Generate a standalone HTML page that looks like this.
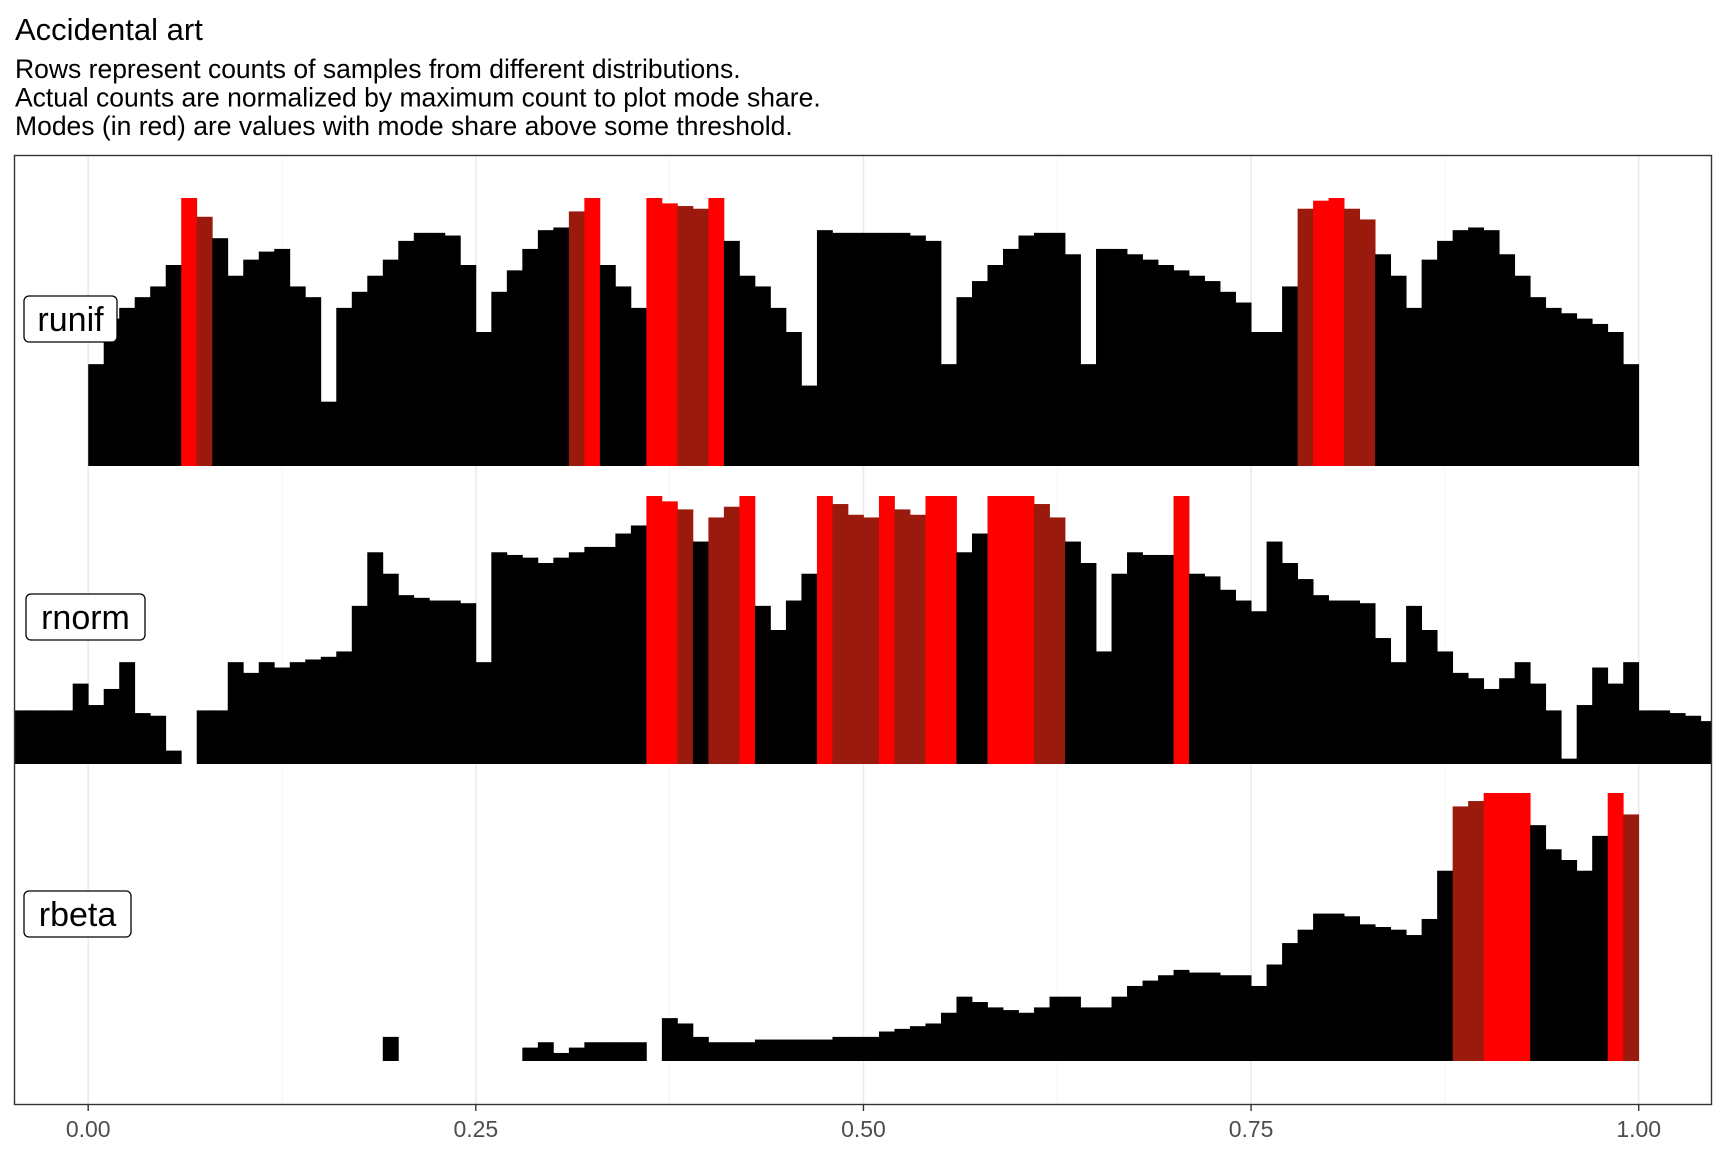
<!DOCTYPE html>
<html><head><meta charset="utf-8"><style>
html,body{margin:0;padding:0;background:#fff}
svg{display:block;font-family:"Liberation Sans",sans-serif}
</style></head><body>
<svg id="chart" width="1728" height="1152" viewBox="0 0 1728 1152" xmlns="http://www.w3.org/2000/svg">
<text x="15" y="40" font-size="31" fill="#000">Accidental art</text>
<text x="15" y="78" font-size="26.5" fill="#000">Rows represent counts of samples from different distributions.</text>
<text x="15" y="106.5" font-size="26.5" fill="#000">Actual counts are normalized by maximum count to plot mode share.</text>
<text x="15" y="135" font-size="26.5" fill="#000">Modes (in red) are values with mode share above some threshold.</text>
<g id="grid"></g>
<g id="bars"></g>
<g id="labels"></g>
<rect x="14.5" y="155.5" width="1697" height="949" fill="none" stroke="#333" stroke-width="1.4"/>
<g id="axis"></g>
</svg>
<script>
const rows = ["runif","rnorm","rbeta"];
const startRunif = 0.00;
const runifVals = [.38,.55,.59,.63,.67,.75,1.0,.93,.85,.71,.77,.8,.81,.67,.63,.24,.59,.65,.71,.77,.84,.87,.87,.86,.75,.5,.65,.73,.81,.88,.89,.95,1.0,.75,.67,.59,1.0,.98,.97,.96,1.0,.84,.71,.67,.59,.5,.3,.88,.87,.87,.87,.87,.87,.86,.84,.38,.63,.69,.75,.81,.86,.87,.87,.79,.38,.81,.81,.79,.77,.75,.73,.71,.69,.65,.61,.5,.5,.67,.96,.99,1.0,.96,.92,.79,.71,.59,.77,.84,.88,.89,.88,.79,.71,.63,.59,.57,.55,.53,.5,.38];
const startRnorm = -0.05;
const rnormVals = [.2,.2,.2,.2,.3,.22,.28,.38,.19,.18,.05,0,.2,.2,.38,.34,.38,.36,.38,.39,.4,.42,.59,.79,.71,.63,.62,.61,.61,.6,.38,.79,.78,.77,.75,.77,.79,.81,.81,.86,.89,1.0,.98,.95,.83,.92,.96,1.0,.59,.5,.61,.71,1.0,.97,.93,.92,1.0,.95,.93,1.0,1.0,.79,.86,1.0,1.0,1.0,.97,.92,.83,.75,.42,.71,.79,.78,.78,1.0,.71,.7,.65,.61,.57,.83,.75,.69,.63,.61,.61,.6,.47,.38,.59,.5,.42,.34,.32,.28,.32,.38,.3,.2,.02,.22,.36,.3,.38,.2,.2,.19,.18,.16];
const startRbeta = 0.19;
const rbetaVals = [.09,0,0,0,0,0,0,0,0,.05,.07,.03,.05,.07,.07,.07,.07,0,.16,.14,.09,.07,.07,.07,.08,.08,.08,.08,.08,.09,.09,.09,.11,.12,.13,.14,.18,.24,.22,.2,.19,.18,.2,.24,.24,.2,.2,.24,.28,.3,.32,.34,.33,.33,.32,.32,.28,.36,.44,.49,.55,.55,.54,.51,.5,.49,.47,.53,.71,.95,.97,1.0,1.0,1.0,.88,.79,.75,.71,.84,1.0,.92];
const xTicks = [0, 0.25, 0.5, 0.75, 1];
const xTickLabels = ["0.00","0.25","0.50","0.75","1.00"];
const binWidth = 0.01;

const NS="http://www.w3.org/2000/svg";
const X0=88.2, XS=1550.5;
function xScale(v){return X0+v*XS;}
const baselines=[466,764,1061], H=268;
function yScale(r,v){return baselines[r]-v*H;}
function colorFor(v){ if(v>=0.98) return "#ff0000"; if(v>=0.9) return "#9b1a0e"; return "#000000"; }
function mk(tag,attrs,parent){const e=document.createElementNS(NS,tag);for(const k in attrs)e.setAttribute(k,attrs[k]);parent.appendChild(e);return e;}

const grid=document.getElementById('grid');
for(let i=-0.125;i<=1.126;i+=0.125){
  const major=Math.abs(i*4-Math.round(i*4))<1e-6;
  const gl=mk('line',{x1:xScale(i),x2:xScale(i),y1:156,y2:1104,stroke:major?"#ebebeb":"#f4f4f4","stroke-width":major?1.6:0.8},grid);
  
  
}

const barsG=document.getElementById('bars');
const series=[[startRunif,runifVals],[startRnorm,rnormVals],[startRbeta,rbetaVals]];
series.forEach(([st,vals],r)=>{
  vals.forEach((v,i)=>{
    if(v<=0) return;
    const x1=Math.max(15,xScale(st+i*binWidth)), x2=Math.min(1711,xScale(st+(i+1)*binWidth));
    const y=yScale(r,v);
    const b=mk('rect',{x:x1,y:y,width:(x2-x1)+0.4,height:baselines[r]-y,fill:colorFor(v)},barsG);
    
    
  });
});

const lab=document.getElementById('labels');
const labBoxes=[[24,296,93,46],[26,594,119,46],[24,891,107,46]];
rows.forEach((n,r)=>{
  const [x,y,w,h]=labBoxes[r];
  const g=mk('g',{},lab);
  
  
  mk('rect',{x:x,y:y,width:w,height:h,rx:5,fill:"#fff",stroke:"#000","stroke-width":1.3},g);
  const t=mk('text',{x:x+w/2,y:y+h/2+12,"font-size":34,"text-anchor":"middle",fill:"#000"},g);
  t.textContent=n;
});

const ax=document.getElementById('axis');
xTicks.forEach((v,i)=>{
  const tk=mk('line',{x1:xScale(v),x2:xScale(v),y1:1105,y2:1111,stroke:"#333","stroke-width":1.4},ax);
  
  
  const t=mk('text',{x:xScale(v),y:1137,"font-size":23,"text-anchor":"middle",fill:"#4d4d4d"},ax);
  
  
  t.textContent=xTickLabels[i];
});
</script>
</body></html>
